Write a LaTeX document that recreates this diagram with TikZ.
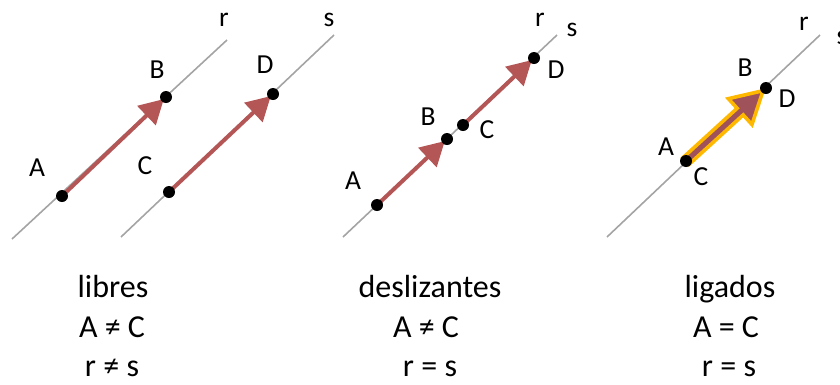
\documentclass[tikz,border=0pt]{standalone}
\usepackage{fontspec}
\setmainfont{Carlito}
\usetikzlibrary{arrows.meta,calc}
\definecolor{lineg}{HTML}{A4A4A4}
\definecolor{vecred}{HTML}{B55656}
\definecolor{vecdark}{HTML}{A0525A}
\definecolor{gold}{HTML}{FFB800}
\tikzset{
  axis/.style={draw=lineg,line width=1.6pt},
  pt/.style={circle,fill=black,inner sep=0pt,minimum size=12pt},
  lbl/.style={font=\fontsize{27.5}{30}\selectfont,inner sep=0pt},
  captxt/.style={font=\fontsize{32}{36}\selectfont,inner sep=0pt,anchor=base},
  vec/.style={draw=vecred,line width=4pt,-{Triangle[length=24pt,width=26pt]},shorten >=3pt}
}
\begin{document}
\begin{tikzpicture}[x=1pt,y=-1pt]
\useasboundingbox (0,0) rectangle (840,384);
% ---------- panel 1: libres ----------
\coordinate (r1a) at (12,239);
\coordinate (r1b) at (227,40);
\coordinate (s1a) at (121,237);
\coordinate (s1b) at (334,35);
\draw[axis] (r1a) -- (r1b);
\draw[axis] (s1a) -- (s1b);
\coordinate (A1) at (62,196);
\coordinate (B1) at (166,97);
\coordinate (C1) at (169,192);
\coordinate (D1) at (273,94);
\draw[vec] (A1) -- (B1);
\draw[vec] (C1) -- (D1);
\node[pt] (pA1) at (A1) {};
\node[pt] (pB1) at (B1) {};
\node[pt] (pC1) at (C1) {};
\node[pt] (pD1) at (D1) {};
\node[lbl] (lA1) at (37,168) {A};
\node[lbl] (lB1) at (157,70) {B};
\node[lbl] (lC1) at (145,166) {C};
\node[lbl] (lD1) at (265,65) {D};
\node[lbl] (lr1) at (224,20) {r};
\node[lbl] (ls1) at (329,20) {s};
% ---------- panel 2: deslizantes ----------
\coordinate (r2a) at (343,237);
\coordinate (r2b) at (557,35);
\draw[axis] (r2a) -- (r2b);
\coordinate (A2) at (377,205);
\coordinate (B2) at (447,139);
\coordinate (C2) at (463,125);
\coordinate (D2) at (534,58);
\draw[vec] (A2) -- (B2);
\draw[vec] (C2) -- (D2);
\node[pt] (pA2) at (A2) {};
\node[pt] (pB2) at (B2) {};
\node[pt] (pC2) at (C2) {};
\node[pt] (pD2) at (D2) {};
\node[lbl] (lA2) at (353,181) {A};
\node[lbl] (lB2) at (428,117) {B};
\node[lbl] (lC2) at (487,130) {C};
\node[lbl] (lD2) at (556,70) {D};
\node[lbl] (lr2) at (540,20) {r};
\node[lbl] (ls2) at (572,30) {s};
% ---------- panel 3: ligados ----------
\coordinate (r3a) at (607,237);
\coordinate (r3b) at (820,35);
\draw[axis] (r3a) -- (r3b);
\coordinate (AC) at (686,161);
\coordinate (BD) at (766,88);
\coordinate (H) at ($(BD)!35pt!(AC)$);
\fill[vecdark,draw=gold,line width=3.6pt,line join=miter]
  ($(AC)!4.5pt!90:(BD)$) -- ($(H)!4.5pt!-90:(AC)$) -- ($(H)!17.5pt!-90:(AC)$)
  -- ($(BD)!4pt!(AC)$)
  -- ($(H)!17.5pt!90:(AC)$) -- ($(H)!4.5pt!90:(AC)$) -- ($(AC)!4.5pt!-90:(BD)$) -- cycle;
\node[pt] (pAC) at (AC) {};
\node[pt] (pBD) at (BD) {};
\node[lbl] (lA3) at (666,147) {A};
\node[lbl] (lC3) at (701,177) {C};
\node[lbl] (lB3) at (745,68) {B};
\node[lbl] (lD3) at (787,99) {D};
\node[lbl] (lr3) at (804,24) {r};
\node[lbl] (ls3) at (842,38) {s};
% ---------- captions ----------
\node[captxt] (t1) at (113,297) {libres};
\node[captxt] (t2) at (112,337) {A ≠ C};
\node[captxt] (t3) at (112,376) {r ≠ s};
\node[captxt] (t4) at (430,297) {deslizantes};
\node[captxt] (t5) at (426,337) {A ≠ C};
\node[captxt] (t6) at (430,376) {r = s};
\node[captxt] (t7) at (730,297) {ligados};
\node[captxt] (t8) at (726,337) {A = C};
\node[captxt] (t9) at (729,376) {r = s};
\end{tikzpicture}
\end{document}
